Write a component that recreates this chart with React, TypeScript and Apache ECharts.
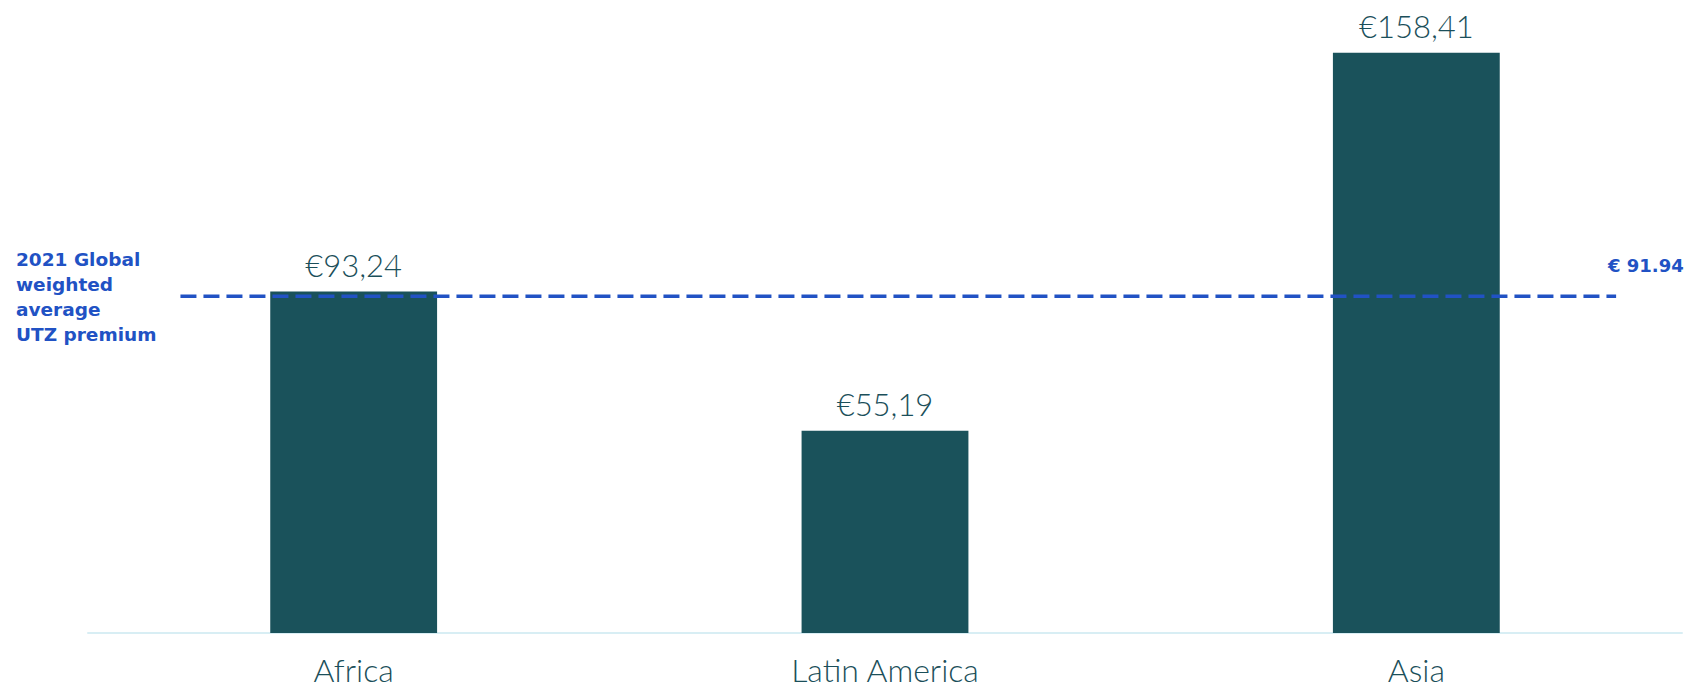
import React, { useEffect, useRef } from "react";
import * as echarts from "echarts";

const categories = ["Africa", "Latin America", "Asia"];
const premiums = [93.24, 55.19, 158.41];
const valueLabels = ["€93,24", "€55,19", "€158,41"];
const globalAverage = 91.94;
const globalAverageLabel = "€ 91.94";
const globalAverageTitle = "2021 Global\nweighted\naverage\nUTZ premium";
// start / end of the average line, in category units along the x-range [0, 3]
const averageLineSpan = [0.174, 2.876];

export default function App() {
  const ref = useRef<HTMLDivElement>(null);
  useEffect(() => {
    const chart = echarts.init(ref.current!, null, { renderer: "svg" });
    const font = "Lato, 'Open Sans', sans-serif";
    const boldFont = "'DejaVu Sans', sans-serif";
    chart.setOption({
      animation: false,
      grid: { left: 80, right: 14, top: 39, bottom: 58 },
      xAxis: [
        {
          type: "category",
          data: categories,
          axisLine: { lineStyle: { color: "#d8eef4", width: 2 } },
          axisTick: { show: false },
          axisLabel: {
            color: "#1b4f5a",
            fontSize: 32,
            fontWeight: 300,
            fontFamily: font,
            margin: 20,
          },
        },
        { type: "value", min: 0, max: 3, show: false },
      ],
      yAxis: { type: "value", min: 0, max: 160, show: false, splitLine: { show: false } },
      series: [
        {
          type: "bar",
          data: premiums,
          barWidth: "31.4%",
          itemStyle: { color: "#1a525b" },
          label: {
            show: true,
            position: "top",
            distance: 11,
            color: "#1b4f5a",
            fontSize: 31,
            fontWeight: 300,
            fontFamily: font,
            formatter: (p: any) => valueLabels[p.dataIndex],
          },
        },
        {
          type: "line",
          xAxisIndex: 1,
          data: averageLineSpan.map((x) => [x, globalAverage]),
          symbol: "none",
          lineStyle: { color: "#2152c4", width: 3.5, type: [16, 7] },
          z: 5,
        },
      ],
      graphic: [
        {
          type: "text",
          left: 8,
          top: 239,
          style: {
            text: globalAverageTitle,
            fill: "#2152c4",
            font: `bold 18.5px ${boldFont}`,
            lineHeight: 25,
          },
        },
        {
          type: "text",
          left: 1600,
          top: 248,
          style: {
            text: globalAverageLabel,
            fill: "#2152c4",
            font: `bold 18px ${boldFont}`,
          },
        },
      ],
    });
    return () => chart.dispose();
  }, []);
  return <div ref={ref} style={{ width: 1688, height: 683 }} />;
}
